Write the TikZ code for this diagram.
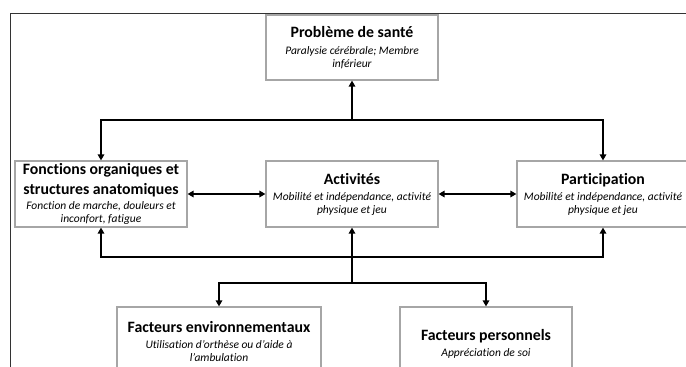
\documentclass[tikz,border=0pt]{standalone}
\usepackage{fontspec}
\setmainfont{Carlito}[Ligatures=NoCommon]
\usetikzlibrary{arrows.meta}
\definecolor{boxgray}{HTML}{A6A6A6}
\definecolor{framegray}{HTML}{333333}
\newcommand{\boxtitle}{\fontsize{15.8}{13}\selectfont\bfseries\upshape}
\newcommand{\boxnote}{\fontsize{11.5}{13}\selectfont\mdseries\itshape}
\tikzset{
  icfbox/.style={draw=boxgray, line width=1.2pt, fill=white, inner sep=0pt,
    minimum width=172pt, minimum height=66pt, align=center, text=black,
    font=\boxnote},
  link/.style={line width=2pt, -{Triangle[length=6pt,width=6.5pt]}},
  twoway/.style={line width=2pt, {Triangle[length=6pt,width=6.5pt]}-{Triangle[length=6pt,width=6.5pt]}},
}
\begin{document}
\begin{tikzpicture}[x=1pt,y=-1pt]
\useasboundingbox (0,0) rectangle (686,367);
\clip (0,0) rectangle (686,367);
\fill[white] (0,0) rectangle (686,367);
% outer frame (open to the right and bottom)
\draw[framegray, line width=1.2pt] (10.5,380) -- (10.5,13.3) -- (700,13.3);

% boxes
\node[icfbox, minimum height=65pt] (prob) at (352,47.5)
  {{\boxtitle Problème de santé}\\[4pt]Paralysie cérébrale; Membre\\inférieur};
\node[icfbox] (fonc) at (101,194)
  {{\boxtitle Fonctions organiques et}\\[5pt]{\boxtitle structures anatomiques}\\[1.5pt]Fonction de marche, douleurs et\\inconfort, fatigue};
\node[icfbox] (act) at (352,194)
  {{\boxtitle Activités}\\[3pt]Mobilité et indépendance, activité\\physique et jeu};
\node[icfbox] (part) at (603,194)
  {{\boxtitle Participation}\\[3pt]Mobilité et indépendance, activité\\physique et jeu};
\node[icfbox, minimum width=204pt, minimum height=68pt] (env) at (219,341)
  {{\boxtitle Facteurs environnementaux}\\[3pt]Utilisation d’orthèse ou d’aide à\\l’ambulation};
\node[icfbox, minimum height=74pt] (pers) at (486,344)
  {{\boxtitle Facteurs personnels}\\[3pt]Appréciation de soi};

% junction points of the connector buses
\coordinate (hubtop) at (352,120);
\coordinate (hubbot) at (352,257);
\coordinate (split) at (352,283);

% upper bus
\draw[link] (hubtop) -- (prob.south);
\draw[link] (hubtop) -| (fonc.north);
\draw[link] (hubtop) -| (part.north);

% two-way links between the middle boxes
\draw[twoway] (fonc.east) -- (act.west);
\draw[twoway] (act.east) -- (part.west);

% lower bus
\draw[link] (hubbot) -| (fonc.south);
\draw[link] (hubbot) -- (act.south);
\draw[link] (hubbot) -| (part.south);
\draw[line width=2pt] (hubbot) -- (split);
\draw[link] (split) -| (env.north);
\draw[link] (split) -| (pers.north);
\end{tikzpicture}
\end{document}
